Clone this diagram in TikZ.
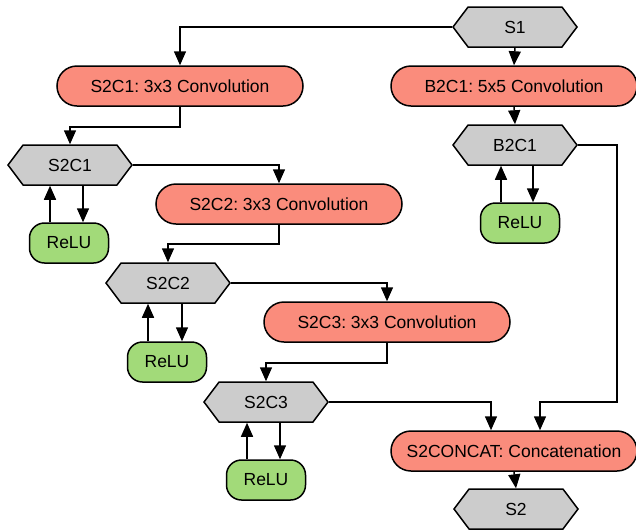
\documentclass[tikz,border=0pt]{standalone}
\usepackage{fontspec}
\setmainfont{Liberation Sans}
\usepackage{tikz}
\usetikzlibrary{positioning,shapes.symbols,shapes.misc,arrows.meta}
\frenchspacing

\definecolor{hexgray}{HTML}{CCCCCC}
\definecolor{convred}{HTML}{FA8C7C}
\definecolor{relugreen}{HTML}{A2DA79}

\tikzset{
	hexa/.style={signal, signal to=west and east, signal pointer angle=106, draw, fill=hexgray, line width=1.5pt, minimum width=124pt, minimum height=40pt, inner sep=0pt},
	conv/.style={rounded rectangle, draw, fill=convred, line width=1.5pt, minimum width=246pt, minimum height=40pt, inner sep=0pt},
	relu/.style={rounded corners=15pt, draw, fill=relugreen, line width=1.5pt, minimum width=79pt, minimum height=40pt, inner sep=0pt},
	arr/.style={line width=1.5pt, -{Triangle[length=14pt,width=12pt]}}
}

\begin{document}
\begin{tikzpicture}[x=1pt,y=-1pt,font=\fontsize{17.5}{21}\selectfont]
				\useasboundingbox (0,0) rectangle (636,531);
				%%%nodes
				%input
				\node[hexa] at (515,27) (S1){S1};
				%branch B
				\node[conv] at (514,86) (CB1){B2C1: 5x5 Convolution};
				\node[hexa] at (515,145) (HB1){B2C1};
				\node[relu] at (520,223) (RB1){ReLU};
				%branch S, step 1
				\node[conv] at (180,86) (CS1){S2C1: 3x3 Convolution};
				\node[hexa] at (70,165) (HS1){S2C1};
				\node[relu] at (69,243) (RS1){ReLU};
				%branch S, step 2
				\node[conv] at (279,204) (CS2){S2C2: 3x3 Convolution};
				\node[hexa] at (168,283) (HS2){S2C2};
				\node[relu] at (167,362) (RS2){ReLU};
				%branch S, step 3
				\node[conv] at (387,322) (CS3){S2C3: 3x3 Convolution};
				\node[hexa] at (266,402) (HS3){S2C3};
				\node[relu] at (266,480) (RS3){ReLU};
				%output
				\node[conv] at (514,451) (CAT){S2CONCAT: Concatenation};
				\node[hexa] at (516,509) (S2){S2};
				%%%links
				%from S1
				\draw[arr] (S1.west) -| (CS1.north);
				\draw[arr] (S1.south) -- (CB1.north);
				%branch B
				\draw[arr] (CB1.south) -- (HB1.north);
				\draw[arr] ([xshift=-19pt]RB1.north) -- ([xshift=-19pt]RB1.north |- HB1.south);
				\draw[arr] ([xshift=13pt]RB1.north |- HB1.south) -- ([xshift=13pt]RB1.north);
				\draw[arr] (HB1.east) -- ++(39,0) -- ++(0,257) -| ([xshift=26pt]CAT.north);
				%branch S, step 1
				\draw[arr] (CS1.south) -- ++(0,20) -| (HS1.north);
				\draw[arr] ([xshift=-19pt]RS1.north) -- ([xshift=-19pt]RS1.north |- HS1.south);
				\draw[arr] ([xshift=14pt]RS1.north |- HS1.south) -- ([xshift=14pt]RS1.north);
				\draw[arr] (HS1.east) -| (CS2.north);
				%branch S, step 2
				\draw[arr] (CS2.south) -- ++(0,19) -| (HS2.north);
				\draw[arr] ([xshift=-19pt]RS2.north) -- ([xshift=-19pt]RS2.north |- HS2.south);
				\draw[arr] ([xshift=15pt]RS2.north |- HS2.south) -- ([xshift=15pt]RS2.north);
				\draw[arr] (HS2.east) -| (CS3.north);
				%branch S, step 3
				\draw[arr] (CS3.south) -- ++(0,20) -| (HS3.north);
				\draw[arr] ([xshift=-19pt]RS3.north) -- ([xshift=-19pt]RS3.north |- HS3.south);
				\draw[arr] ([xshift=14pt]RS3.north |- HS3.south) -- ([xshift=14pt]RS3.north);
				\draw[arr] (HS3.east) -| ([xshift=-23pt]CAT.north);
				%output
				\draw[arr] (CAT.south) -- (S2.north);
			\end{tikzpicture}
\end{document}
